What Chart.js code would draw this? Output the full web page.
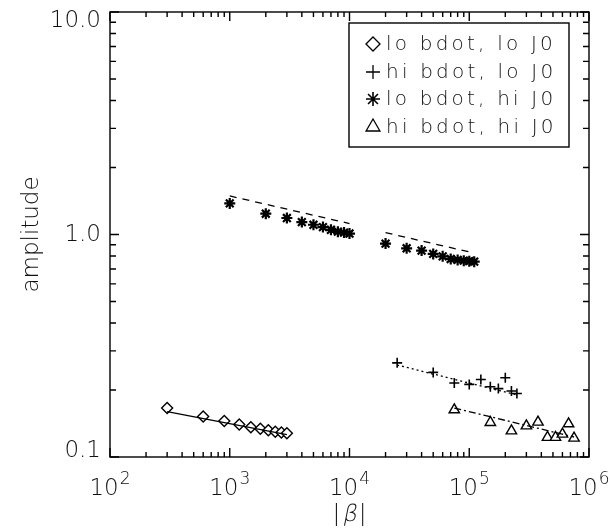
<!DOCTYPE html>
<html>
<head>
<meta charset="utf-8">
<script src="https://cdn.jsdelivr.net/npm/chart.js@4.4.0/dist/chart.umd.min.js"></script>
<style>
  html, body { margin: 0; padding: 0; background: #fff; }
  #wrap { width: 610px; height: 529px; }
</style>
</head>
<body>
<div id="wrap"><canvas id="chart" width="610" height="529"></canvas></div>
<script>
// lo bdot, lo J0 (diamonds)
const loLoX = [300, 600, 900, 1200, 1500, 1800, 2100, 2400, 2700, 3000];
const loLoY = [0.166, 0.152, 0.145, 0.140, 0.136, 0.134, 0.132, 0.130, 0.129, 0.128];
const loLoFitX = [300, 3000];
const loLoFitY = [0.160, 0.126];

// hi bdot, lo J0 (plus)
const hiLoX = [25000, 50000, 75000, 100000, 125000, 150000, 175000, 200000, 225000, 250000];
const hiLoY = [0.265, 0.240, 0.215, 0.212, 0.223, 0.207, 0.203, 0.227, 0.198, 0.193];
const hiLoFitX = [25000, 250000];
const hiLoFitY = [0.259, 0.190];

// lo bdot, hi J0 (asterisks), two groups
const loHiX = [1000, 2000, 3000, 4000, 5000, 6000, 7000, 8000, 9000, 10000,
               20000, 30000, 40000, 50000, 60000, 70000, 80000, 90000, 100000, 110000];
const loHiY = [1.38, 1.24, 1.186, 1.137, 1.106, 1.08, 1.05, 1.03, 1.02, 1.01,
               0.91, 0.867, 0.847, 0.818, 0.798, 0.776, 0.769, 0.763, 0.759, 0.755];
const loHiFit1X = [1000, 10000];
const loHiFit1Y = [1.49, 1.12];
const loHiFit2X = [20000, 105000];
const loHiFit2Y = [1.02, 0.83];

// hi bdot, hi J0 (triangles)
const hiHiX = [75000, 150000, 225000, 300000, 375000, 450000, 525000, 600000, 675000, 750000];
const hiHiY = [0.163, 0.143, 0.131, 0.138, 0.1435, 0.1225, 0.1225, 0.1267, 0.141, 0.1216];
const hiHiFitX = [75000, 750000];
const hiHiFitY = [0.166, 0.123];

// axes
const xMajor = [100, 1000, 10000, 100000, 1000000];
const xExponents = ['2', '3', '4', '5', '6'];
const yMajor = [0.1, 1, 10];
const yLabels = ['0.1', '1.0', '10.0'];
const legendLabels = ['lo bdot, lo J0', 'hi bdot, lo J0', 'lo bdot, hi J0', 'hi bdot, hi J0'];

const FONT = '"DejaVu Sans", sans-serif';
const W = '200 ';

function pts(xs, ys){ return xs.map((x, i) => ({ x: x, y: ys[i] })); }

function minorTicks(majors){
  const out = [];
  for(let i = 0; i < majors.length - 1; i++){
    for(let k = 2; k <= 9; k++) out.push(majors[i] * k);
  }
  return out;
}

const markerStyles = [
  { pointStyle: 'rectRot', radius: 5.5, borderWidth: 1.4, borderColor: '#000', backgroundColor: '#fff' },
  { pointStyle: 'cross', radius: 5, borderWidth: 1.6, borderColor: '#000', backgroundColor: '#000' },
  { pointStyle: 'star', radius: 5.5, borderWidth: 2.2, borderColor: '#000', backgroundColor: '#000' },
  { pointStyle: 'triangle', radius: 6, borderWidth: 1.4, borderColor: '#000', backgroundColor: '#fff' }
];

function scatterSet(label, xs, ys, st){
  return {
    type: 'scatter', label: label, data: pts(xs, ys),
    pointStyle: st.pointStyle, pointRadius: st.radius, pointBorderWidth: st.borderWidth,
    pointBorderColor: st.borderColor, pointBackgroundColor: st.backgroundColor,
    showLine: false, clip: false
  };
}

function fitSet(xs, ys, dash){
  return {
    type: 'line', label: 'fit', data: pts(xs, ys),
    borderColor: '#000', borderWidth: 1.3, borderDash: dash,
    pointRadius: 0, fill: false, tension: 0
  };
}

// frame, inward ticks, labels and legend, IDL style
const idlAxes = {
  id: 'idlAxes',
  afterDraw(chart){
    const ctx = chart.ctx;
    const a = chart.chartArea;
    const xs = chart.scales.x, ys = chart.scales.y;
    ctx.save();
    ctx.strokeStyle = '#000';
    ctx.fillStyle = '#111';
    ctx.lineWidth = 1.4;
    ctx.strokeRect(a.left, a.top, a.right - a.left, a.bottom - a.top);

    ctx.beginPath();
    const tick = (v, len, horiz) => {
      if(horiz){
        const px = xs.getPixelForValue(v);
        ctx.moveTo(px, a.bottom); ctx.lineTo(px, a.bottom - len);
        ctx.moveTo(px, a.top); ctx.lineTo(px, a.top + len);
      } else {
        const py = ys.getPixelForValue(v);
        ctx.moveTo(a.left, py); ctx.lineTo(a.left + len, py);
        ctx.moveTo(a.right, py); ctx.lineTo(a.right - len, py);
      }
    };
    xMajor.forEach(v => tick(v, 9, true));
    minorTicks(xMajor).forEach(v => tick(v, 5, true));
    yMajor.forEach(v => tick(v, 9, false));
    minorTicks(yMajor).forEach(v => tick(v, 6, false));
    ctx.stroke();

    // y tick labels
    ctx.font = W + '23px ' + FONT;
    ctx.textAlign = 'right';
    ctx.textBaseline = 'middle';
    yMajor.forEach((v, i) => {
      let py = ys.getPixelForValue(v);
      if(i === 0) py -= 7;
      if(i === yMajor.length - 1) py += 8;
      ctx.fillText(yLabels[i], a.left - 9, py + 1);
    });

    // x tick labels: 10 with superscript exponent
    ctx.textBaseline = 'alphabetic';
    ctx.textAlign = 'left';
    xMajor.forEach((v, i) => {
      const px = xs.getPixelForValue(v);
      ctx.font = W + '23px ' + FONT;
      const wb = ctx.measureText('10').width;
      ctx.font = W + '17px ' + FONT;
      const we = ctx.measureText(xExponents[i]).width;
      const x0 = px - (wb + we + 1) / 2;
      ctx.font = W + '23px ' + FONT;
      ctx.fillText('10', x0, 495);
      ctx.font = W + '17px ' + FONT;
      ctx.fillText(xExponents[i], x0 + wb + 1, 484);
    });

    // x title |beta| (beta slanted by hand, the light face has no italic)
    ctx.font = W + '23px ' + FONT;
    const wBar = ctx.measureText('|').width;
    const wB = ctx.measureText('\u03b2').width;
    const tx = (a.left + a.right) / 2 - (2 * wBar + wB + 4) / 2;
    const ty = 521;
    ctx.fillText('|', tx, ty);
    ctx.save();
    ctx.translate(tx + wBar + 2, ty);
    ctx.transform(1, 0, -0.2, 1, 0, 0);
    ctx.fillText('\u03b2', 0, 0);
    ctx.restore();
    ctx.fillText('|', tx + wBar + wB + 4, ty);

    // y title
    ctx.save();
    ctx.translate(32, (a.top + a.bottom) / 2);
    ctx.rotate(-Math.PI / 2);
    ctx.textAlign = 'center';
    ctx.textBaseline = 'middle';
    ctx.font = W + '23px ' + FONT;
    ctx.fillText('amplitude', 0, 0);
    ctx.restore();

    // legend
    ctx.lineWidth = 1.4;
    ctx.strokeRect(349, 23, 220, 124);
    const rowY = [44, 72, 99, 127];
    ctx.font = W + '20px ' + FONT;
    ctx.textAlign = 'left';
    ctx.textBaseline = 'middle';
    if('letterSpacing' in ctx) ctx.letterSpacing = '3.2px';
    legendLabels.forEach((lab, i) => {
      const st = markerStyles[i];
      ctx.lineWidth = i === 2 ? 1.6 : 1.3;
      ctx.strokeStyle = st.borderColor;
      ctx.fillStyle = st.backgroundColor;
      Chart.helpers.drawPoint(ctx, { pointStyle: st.pointStyle, radius: i === 3 ? 8 : 7, rotation: 0, borderWidth: ctx.lineWidth }, 373, rowY[i]);
      ctx.fillStyle = '#111';
      ctx.fillText(lab, 386, rowY[i] + 1);
    });
    ctx.restore();
  }
};

new Chart(document.getElementById('chart'), {
  data: {
    datasets: [
      fitSet(loLoFitX, loLoFitY, []),
      fitSet(hiLoFitX, hiLoFitY, [2, 3]),
      fitSet(loHiFit1X, loHiFit1Y, [7, 6]),
      fitSet(loHiFit2X, loHiFit2Y, [7, 6]),
      fitSet(hiHiFitX, hiHiFitY, [7, 3, 2, 3]),
      scatterSet(legendLabels[0], loLoX, loLoY, markerStyles[0]),
      scatterSet(legendLabels[1], hiLoX, hiLoY, markerStyles[1]),
      scatterSet(legendLabels[2], loHiX, loHiY, markerStyles[2]),
      scatterSet(legendLabels[3], hiHiX, hiHiY, markerStyles[3])
    ]
  },
  options: {
    responsive: false,
    animation: false,
    devicePixelRatio: 1,
    layout: { padding: { left: 110, right: 21, top: 12, bottom: 72 } },
    plugins: { legend: { display: false }, tooltip: { enabled: false } },
    scales: {
      x: { type: 'logarithmic', min: 100, max: 1000000, display: false },
      y: { type: 'logarithmic', min: 0.1, max: 10, display: false }
    }
  },
  plugins: [idlAxes]
});
</script>
</body>
</html>
